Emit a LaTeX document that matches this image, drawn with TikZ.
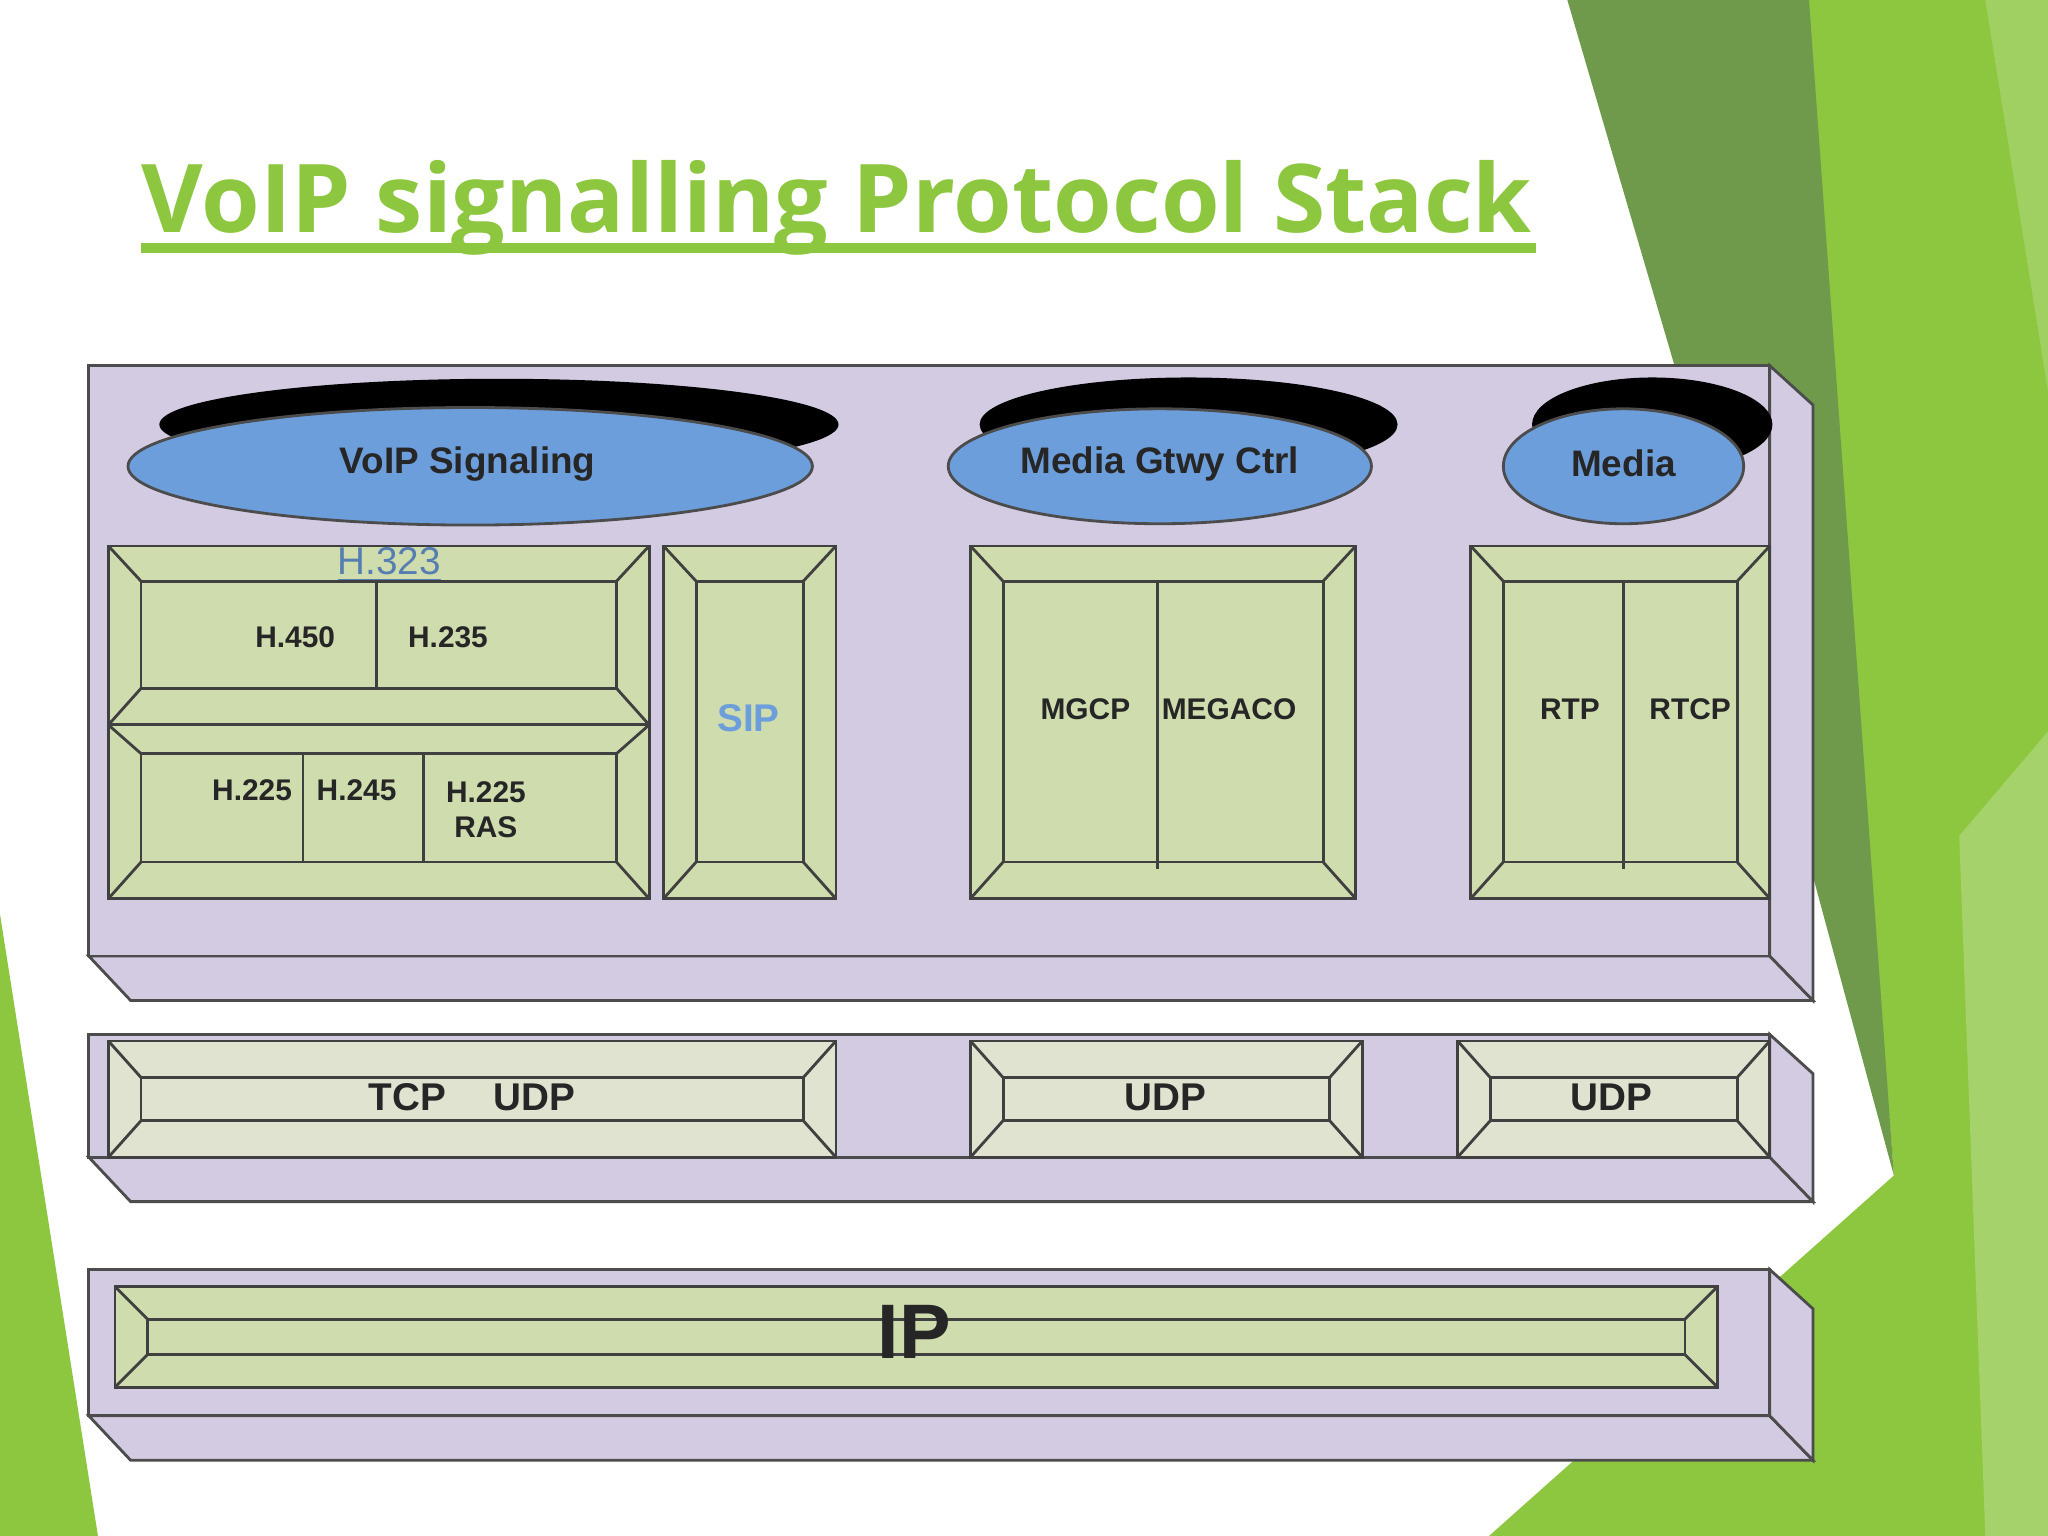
\documentclass[tikz,border=0pt]{standalone}
\usepackage{fontspec}
\setmainfont{Liberation Sans}
\newfontfamily\titlefont{Open Sans}
\begin{document}
\begin{tikzpicture}[x=0.013061cm,y=-0.013061cm,
  lav/.style={fill=lavend,draw=black!70,line width=0.8pt},
  bv/.style={fill=bvg,draw=black!75,line width=0.8pt},
  lbl/.style={font=\bfseries\fontsize{8.5}{10}\selectfont,text=black!85},
  ell/.style={fill=ellblue,draw=black!70,line width=0.8pt},
  shd/.style={fill=black}]
\definecolor{lavend}{HTML}{D3CBE2}
\definecolor{bvg}{HTML}{CFDCAD}
\definecolor{bvl}{HTML}{DFE3D0}
\definecolor{ellblue}{HTML}{6D9EDC}
\definecolor{tgreen}{HTML}{8DC63F}
\definecolor{dgreen}{HTML}{6F9A4C}
\definecolor{lgreen}{HTML}{A5D26A}
\useasboundingbox (0,0) rectangle (1568,1176);
\fill[white] (0,0) rectangle (1568,1176);
% background decoration
\fill[tgreen] (1380,0) -- (1568,0) -- (1568,1176) -- (1140,1176) -- (1450,900) -- cycle;
\fill[dgreen] (1200,0) -- (1385,0) -- (1450,900) -- (1285,290) -- cycle;
\fill[lgreen] (1500,640) -- (1568,560) -- (1568,1176) -- (1520,1176) -- cycle;
\fill[lgreen!80!tgreen] (1520,0) -- (1568,0) -- (1568,300) -- cycle;
\fill[tgreen] (0,700) -- (75,1176) -- (0,1176) -- cycle;
% title
\node[anchor=base west,inner sep=0pt,text=tgreen,font=\titlefont\bfseries\fontsize{27}{33}\selectfont] (title) at (108,178) {VoIP signalling Protocol Stack};
\draw[tgreen,line width=3pt] (108,190) -- (1176,190);
% panels
\newcommand{\panel}[4]{%
 \filldraw[lav] (#1,#4) -- (#1+32,#4+34) -- (1388,#4+34) -- (1355,#4) -- cycle;
 \filldraw[lav] (#3,#2) -- (1388,#2+30) -- (1388,#4+34) -- (#3,#4) -- cycle;
 \filldraw[lav] (#1,#2) rectangle (#3,#4);}
\panel{68}{280}{1355}{732}
\panel{68}{792}{1355}{886}
\panel{68}{972}{1355}{1084}
% bevel boxes
\newcommand{\bev}[9]{% x1 y1 x2 y2 ix1 iy1 ix2 iy2 colour
 \filldraw[bv,fill=#9] (#1,#2) rectangle (#3,#4);
 \draw[black!75,line width=0.8pt] (#1,#2)--(#5,#6) (#3,#2)--(#7,#6) (#1,#4)--(#5,#8) (#3,#4)--(#7,#8);
 \filldraw[bv,fill=#9] (#5,#6) rectangle (#7,#8);}
\bev{83}{418}{497}{555}{108}{445}{472}{527}{bvg}
\bev{83}{555}{497}{688}{108}{577}{472}{660}{bvg}
\bev{508}{418}{640}{688}{533}{445}{615}{660}{bvg}
\bev{743}{418}{1038}{688}{768}{445}{1013}{660}{bvg}
\bev{1126}{418}{1355}{688}{1151}{445}{1330}{660}{bvg}
\bev{83}{797}{640}{886}{108}{825}{615}{858}{bvl}
\bev{743}{797}{1043}{886}{768}{825}{1018}{858}{bvl}
\bev{1116}{797}{1355}{886}{1141}{825}{1330}{858}{bvl}
\bev{88}{985}{1315}{1062}{113}{1010}{1290}{1037}{bvg}
\draw[black!75,line width=0.8pt] (288,445)--(288,527) (232,577)--(232,660) (324,577)--(324,660)
  (886,445)--(886,665) (1243,445)--(1243,665);
% ellipses
\fill[shd] (382,325) ellipse [x radius=260,y radius=35];
\filldraw[ell] (360,357) ellipse [x radius=262,y radius=45];
\fill[shd] (910,325) ellipse [x radius=160,y radius=36];
\filldraw[ell] (888,357) ellipse [x radius=162,y radius=44];
\fill[shd] (1265,325) ellipse [x radius=92,y radius=36];
\filldraw[ell] (1243,357) ellipse [x radius=92,y radius=44];
\node[lbl,font=\bfseries\fontsize{10.5}{13}\selectfont] (vs) at (358,355) {VoIP Signaling};
\node[lbl,font=\bfseries\fontsize{10.5}{13}\selectfont] (mg) at (888,355) {Media Gtwy Ctrl};
\node[lbl,font=\bfseries\fontsize{10.5}{13}\selectfont] (md) at (1243,355) {Media};
% labels
\node[font=\fontsize{11}{13}\selectfont,text=ellblue!80!black] (h323) at (298,432) {\underline{H.323}};
\node[lbl] (h450) at (226,488) {H.450};
\node[lbl] (h235) at (343,488) {H.235};
\node[lbl] (h225) at (193,605) {H.225};
\node[lbl] (h245) at (273,605) {H.245};
\node[lbl,align=center] (ras) at (372,620) {H.225\\RAS};
\node[font=\bfseries\fontsize{11}{13}\selectfont,text=ellblue] (sip) at (573,550) {SIP};
\node[lbl] (mgcp) at (831,543) {MGCP};
\node[lbl] (megaco) at (941,543) {MEGACO};
\node[lbl] (rtp) at (1202,543) {RTP};
\node[lbl] (rtcp) at (1294,543) {RTCP};
\node[lbl,font=\bfseries\fontsize{11}{13}\selectfont] (tcp) at (312,840) {TCP};
\node[lbl,font=\bfseries\fontsize{11}{13}\selectfont] (udp1) at (409,840) {UDP};
\node[lbl,font=\bfseries\fontsize{11}{13}\selectfont] (udp2) at (892,840) {UDP};
\node[lbl,font=\bfseries\fontsize{11}{13}\selectfont] (udp3) at (1234,840) {UDP};
\node[lbl,font=\bfseries\fontsize{22}{26}\selectfont] (ip) at (700,1020) {IP};
\end{tikzpicture}
\end{document}
